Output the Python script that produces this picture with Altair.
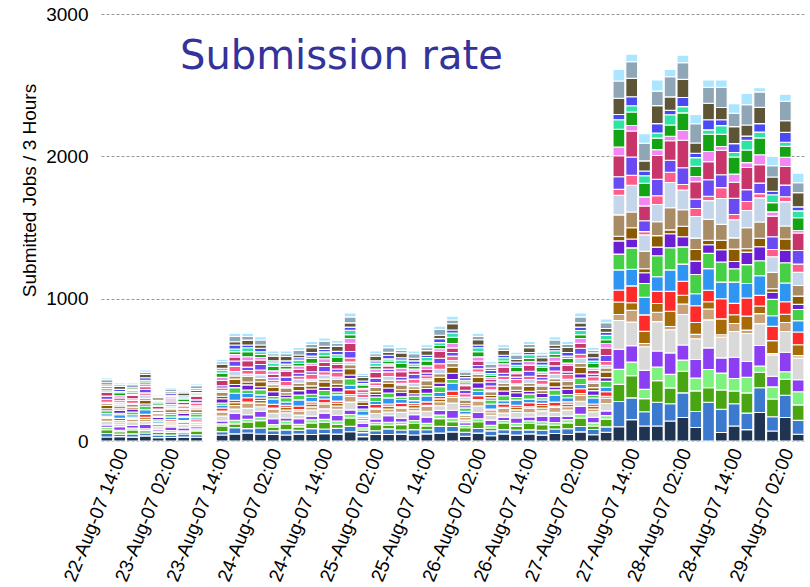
import altair as alt
import pandas as pd

# 3-hour submission slots (start times, UTC), 22-Aug-07 09:00 onwards
slot_starts = pd.date_range("2007-08-22 09:00", periods=55, freq="3h")

tick_labels = [
    "22-Aug-07 14:00", "23-Aug-07 02:00", "23-Aug-07 14:00", "24-Aug-07 02:00",
    "24-Aug-07 14:00", "25-Aug-07 02:00", "25-Aug-07 14:00", "26-Aug-07 02:00",
    "26-Aug-07 14:00", "27-Aug-07 02:00", "27-Aug-07 14:00", "28-Aug-07 02:00",
    "28-Aug-07 14:00", "29-Aug-07 02:00",
]

# submitted jobs per slot, one list per submitter group (stacked bottom to top)
s00 = [28,31,27,36,24,25,27,26,0,42, 50,56,49,46,42,48,46,52,48,65, 31,46,46,48,42,50,55,64,33,55, 37,50,41,50,41,53,46,64,44,62,
       100,150,105,105,140,165,95,0,60,105,80,200,70,165,47]
s01 = [25,17,23,20,19,16,22,18,0,24, 44,31,42,26,36,28,41,32,41,38, 28,26,39,29,38,29,48,38,29,33, 34,30,36,28,35,31,40,38,37,37,
       177,153,100,167,122,173,112,272,162,157,116,174,100,156,98]
s02 = [27,17,27,17,19,19,13,27,0,39, 26,46,52,26,41,23,39,48,28,59, 18,42,25,38,43,27,54,34,31,47, 20,46,26,45,38,26,41,60,24,55,
       121,156,93,152,111,151,145,102,137,89,142,109,125,112,109]
s03 = [16,10,14,13,8,13,9,14,0,15, 26,20,24,17,21,18,23,20,23,24, 16,17,22,18,21,18,26,24,17,21, 19,18,21,19,21,20,23,25,22,24,
       105,95,65,96,95,79,91,128,118,88,109,44,85,54,92]
s04 = [16,26,18,32,12,25,21,15,0,21, 48,31,42,41,22,39,26,44,41,33, 31,24,45,27,40,44,32,56,18,44, 37,24,38,27,40,42,25,56,40,34,
       141,116,133,112,151,106,130,152,107,149,112,144,75,137,84]
s05 = [26,18,26,19,18,15,23,17,0,35, 30,45,32,38,36,26,43,30,41,54, 19,38,27,41,28,41,33,50,20,46, 33,28,38,30,37,29,42,36,38,51,
       203,165,166,207,163,215,145,197,147,181,196,154,150,145,152]
s06 = [21,13,18,16,16,13,17,12,0,27, 25,36,25,30,20,30,22,34,24,42, 16,30,21,30,20,33,28,40,17,36, 18,32,19,32,20,35,24,41,20,38,
       42,84,23,66,22,74,31,76,16,57,24,70,10,64,18]
s07 = [6,11,6,14,3,10,4,12,0,7, 20,9,19,8,18,9,20,9,18,12, 12,8,20,9,18,8,20,13,13,9, 15,9,18,10,17,9,18,13,19,13,
       88,52,85,61,108,61,84,51,111,61,98,54,90,58,76]
s08 = [10,16,10,20,7,14,7,14,0,22, 17,30,17,25,15,25,15,26,16,34, 10,25,15,24,13,25,17,32,11,28, 11,24,14,28,15,28,16,34,16,32,
       84,119,116,86,139,98,117,81,141,80,128,74,100,87,90]
s09 = [17,25,15,33,13,19,23,13,0,19, 50,30,22,38,23,43,31,24,44,31, 30,22,43,28,21,41,28,54,19,29, 36,22,36,25,24,48,29,30,42,31,
       141,116,123,102,151,121,85,152,117,149,102,139,75,132,79]
s10 = [21,11,20,26,10,20,10,22,0,16, 39,24,37,18,30,34,22,36,20,46, 14,31,34,18,31,20,41,27,25,23, 28,35,19,35,17,38,23,46,19,42,
       111,151,98,147,156,121,135,107,142,94,132,104,115,142,79]
s11 = [14,19,21,14,17,12,20,11,0,30, 22,36,20,33,19,31,37,22,34,26, 24,18,35,32,17,34,26,44,15,38, 15,33,33,21,31,21,37,30,33,26,
       93,62,75,61,98,71,94,61,86,51,88,99,50,88,36]
s12 = [23,12,13,26,9,19,9,19,0,17, 38,21,35,32,17,31,22,38,21,44, 25,20,34,18,31,18,40,42,14,39, 17,34,17,34,18,37,22,45,21,41,
       32,79,28,81,27,74,81,31,66,87,24,60,25,79,58]
s13 = [13,20,19,14,17,11,19,13,0,29, 22,39,23,18,33,21,34,20,35,28, 13,30,20,34,19,36,24,28,26,21, 27,20,33,22,32,21,34,27,31,27,
       151,111,123,97,156,116,80,147,112,79,147,114,115,92,74]
s14 = [9,15,7,21,8,15,6,15,0,11, 31,16,27,13,15,27,13,28,16,18, 19,13,27,12,23,13,32,20,20,15, 12,26,12,26,13,30,14,36,15,18,
       137,188,115,122,177,138,152,132,182,127,121,169,110,171,93]
s15 = [21,12,21,17,15,11,17,20,0,18, 36,25,33,19,30,22,34,24,34,29, 23,20,33,22,30,21,39,30,24,24, 27,23,31,23,29,23,33,29,30,28,
       42,69,23,61,72,39,56,31,76,37,64,30,50,34,58]
s16 = [22,13,11,26,9,18,8,21,0,16, 38,24,38,17,31,21,19,36,22,46, 14,32,19,20,33,20,38,26,25,22, 29,21,17,35,19,37,19,42,19,42,
       89,129,76,116,84,118,67,116,91,115,83,74,90,82,95]
s17 = [28,16,24,18,20,13,15,25,0,37, 28,45,32,23,42,27,44,28,31,57, 17,40,23,39,24,24,50,32,32,32, 19,44,24,43,22,32,45,34,26,52,
       147,183,105,167,137,193,122,127,172,112,156,129,145,131,123]
s18 = [10,16,7,18,8,15,8,8,0,22, 17,28,18,25,14,24,15,27,15,34, 10,24,14,24,14,26,17,31,11,29, 12,24,13,26,15,28,16,34,16,32,
       62,39,63,41,32,69,36,71,26,57,34,70,30,64,18]
s19 = [15,21,12,14,16,10,18,10,0,30, 21,36,21,32,20,18,34,22,36,26, 24,19,20,34,19,34,23,43,15,37, 16,19,31,21,33,20,33,26,33,26,
       124,94,96,81,79,123,72,121,86,120,88,119,65,77,90]
s20 = [15,9,15,13,12,8,13,9,0,21, 18,27,19,24,15,23,16,26,18,32, 10,22,15,24,16,25,20,31,12,27, 12,23,15,26,16,26,16,30,16,31,
       67,44,53,36,72,44,61,31,61,32,69,40,55,29,48]
s21 = [11,15,9,17,8,14,9,15,0,13, 28,19,25,14,23,17,26,18,24,22, 18,16,25,16,22,15,28,21,18,19, 22,17,23,16,22,18,26,24,24,21,
       37,64,33,66,32,64,31,71,41,62,29,60,25,69,28]
s22 = [15,20,11,23,17,12,19,12,0,29, 23,35,23,33,31,19,33,21,35,30, 24,32,21,34,18,33,24,44,15,37, 16,35,18,34,30,21,35,30,34,27,
       114,129,71,126,94,128,72,116,86,120,78,114,100,82,100]
s23 = [21,12,21,17,9,18,9,20,0,17, 37,25,35,17,19,33,23,37,21,42, 14,18,33,18,32,21,40,26,25,23, 28,19,32,22,20,37,21,42,18,41,
       121,116,123,102,141,116,135,112,142,94,142,109,80,137,69]
s24 = [13,12,12,15,10,11,11,12,0,17, 23,23,22,19,19,20,21,22,21,27, 14,19,20,20,19,20,24,26,15,23, 17,20,19,21,19,22,21,27,20,26,
       82,54,68,78,52,54,66,51,51,67,79,29,65,49,68]

groups = [s00, s01, s02, s03, s04, s05, s06, s07, s08, s09, s10, s11, s12,
          s13, s14, s15, s16, s17, s18, s19, s20, s21, s22, s23, s24]
group_names = [f"G{i:02d}" for i in range(len(groups))]
group_colors = [
    "#1e3450", "#3c7ad0", "#4aa512", "#7ef27e", "#8c3ff2", "#d9d9d9", "#c9a27a",
    "#a66b06", "#ff2b2b", "#2f95f2", "#45d045", "#6a1fd4", "#8a5a00", "#a88c66",
    "#c6d6ea", "#ff5c8c", "#6a4af2", "#c8356a", "#f286f2", "#14a314", "#2ee3a3",
    "#4a4af5", "#5e5436", "#8ea6b6", "#aae6ff",
]

ISO = "%Y-%m-%dT%H:%M:%SZ"
rows = []
for gi, (name, vals) in enumerate(zip(group_names, groups)):
    for t0, v in zip(slot_starts, vals):
        t1 = t0 + pd.Timedelta(hours=3)
        rows.append({"start": t0.strftime(ISO), "end": t1.strftime(ISO),
                     "group": name, "rank": gi, "jobs": v})
df = pd.DataFrame(rows)

tick_times = [pd.to_datetime(s, format="%d-%b-%y %H:%M") for s in tick_labels]
tick_values = [alt.DateTime(year=t.year, month=t.month, date=t.day, hours=t.hour, utc=True)
               for t in tick_times]
x_start = alt.DateTime(year=2007, month=8, date=22, hours=9, utc=True)
x_end = alt.DateTime(year=2007, month=8, date=29, hours=6, utc=True)

FONT = "Liberation Sans"

bars = alt.Chart(df).transform_stack(
    stack="jobs", groupby=["start"], as_=["lo", "hi"],
    sort=[alt.SortField("rank", order="ascending")],
).mark_bar(stroke="white", strokeWidth=1.1, x2Offset=-1).encode(
    x=alt.X("start:T",
            scale=alt.Scale(type="utc", domain=[x_start, x_end], nice=False),
            axis=alt.Axis(values=tick_values, labelAngle=-68, labelFont=FONT,
                          labelExpr="utcFormat(datum.value, '%d-%b-%y %H:%M')",
                          labelFontSize=19, labelColor="black", labelPadding=8,
                          domain=False, ticks=False, tickSize=0, title=None,
                          grid=False, labelOverlap=False, labelFlush=False)),
    x2="end:T",
    y=alt.Y("lo:Q",
            scale=alt.Scale(domain=[0, 3000], nice=False, zero=True),
            axis=alt.Axis(values=[0, 1000, 2000, 3000], format="d", grid=True,
                          gridColor="#9a9a9a", gridDash=[3, 2], gridWidth=1,
                          domain=False, ticks=False, tickSize=0, labelPadding=13,
                          labelFont=FONT, labelFontSize=19, labelColor="black",
                          title="Submitted Jobs / 3 Hours", titleFont=FONT,
                          titleFontSize=19, titleFontWeight="normal",
                          titleColor="black", titleAngle=270,
                          titleBaseline="alphabetic", titleAlign="center",
                          titleX=-66, titleY=176)),
    y2="hi:Q",
    color=alt.Color("group:N", scale=alt.Scale(domain=group_names, range=group_colors), legend=None),
)

heading = alt.Chart(pd.DataFrame({"t": ["Submission rate"]})).mark_text(
    align="left", baseline="alphabetic", font="DejaVu Sans", fontSize=40, color="#333399"
).encode(text="t:N", x=alt.value(79), y=alt.value(55))

chart = alt.layer(bars, heading).properties(
    width=704, height=427,
    padding={"left": 101, "top": 14, "right": 5, "bottom": 146},
    autosize="none",
    background="white",
).configure_view(stroke=None)

chart.save("out.html", embed_options={"renderer": "svg", "actions": False})
